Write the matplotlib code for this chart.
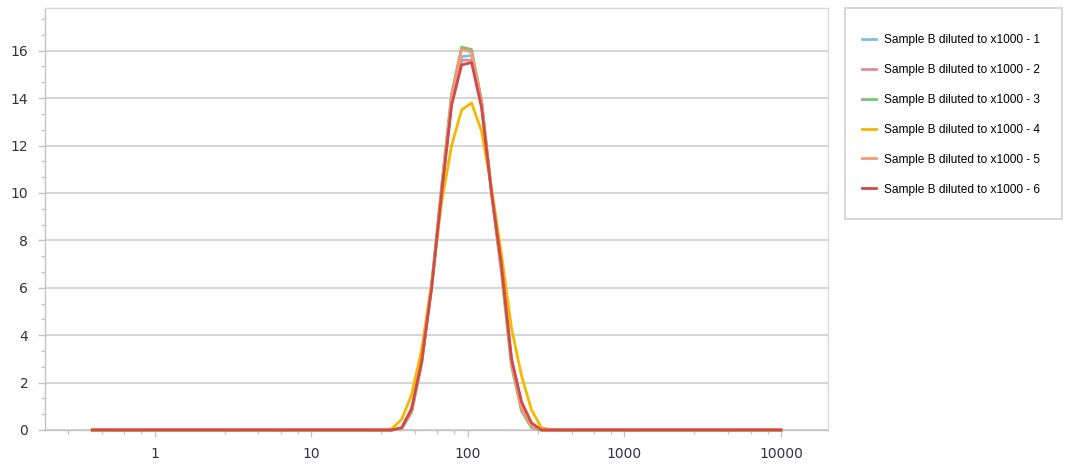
import numpy as np
import matplotlib.pyplot as plt
from matplotlib.ticker import FixedLocator, MultipleLocator, FuncFormatter
from matplotlib.patches import Rectangle

# size classes (nm)
sizes = [0.4000, 0.4632, 0.5365, 0.6213, 0.7195, 0.8332, 0.9649, 1.117, 1.294, 1.499,
         1.736, 2.010, 2.328, 2.696, 3.122, 3.615, 4.187, 4.849, 5.615, 6.503,
         7.531, 8.721, 10.10, 11.70, 13.54, 15.69, 18.17, 21.04, 24.36, 28.21,
         32.67, 37.84, 43.82, 50.75, 58.77, 68.06, 78.82, 91.28, 105.7, 122.4,
         141.8, 164.2, 190.1, 220.2, 255.0, 295.3, 342.0, 396.1, 458.7, 531.2,
         615.1, 712.4, 825.0, 955.4, 1106, 1281, 1484, 1718, 1990, 2305,
         2669, 3091, 3580, 4145, 4801, 5560, 6439, 7456, 8635, 10000]

# values below start at the 28.21 nm class, everything else reads 0
peak_start = 29
s1 = [0, 0, 0.07, 0.85, 2.9, 6.1, 10.1, 13.9, 15.75, 15.8, 13.8, 10.0, 6.8, 2.9, 1.0, 0.2, 0, 0, 0]
s2 = [0, 0, 0.08, 0.9, 2.9, 6.05, 10.05, 13.8, 15.6, 15.6, 13.7, 10.1, 6.9, 3.0, 1.1, 0.25, 0, 0, 0]
s3 = [0, 0, 0.05, 0.75, 2.8, 6.1, 10.3, 14.2, 16.15, 16.05, 13.9, 10.0, 6.6, 2.7, 0.8, 0.1, 0, 0, 0]
s4 = [0, 0.05, 0.45, 1.5, 3.4, 6.2, 9.6, 12.0, 13.5, 13.8, 12.6, 10.2, 7.4, 4.3, 2.3, 0.85, 0.1, 0, 0]
s5 = [0, 0, 0.06, 0.8, 2.85, 6.1, 10.2, 14.1, 16.05, 15.95, 13.9, 10.0, 6.7, 2.8, 0.9, 0.15, 0, 0, 0]
s6 = [0, 0, 0.1, 0.9, 2.9, 6.0, 10.0, 13.7, 15.4, 15.5, 13.6, 10.0, 6.9, 3.0, 1.2, 0.3, 0, 0, 0]

labels = ['Sample B diluted to x1000 - %d' % i for i in range(1, 7)]
colors = ['#7cc0de', '#e8899a', '#74c476', '#f5b700', '#f29a76', '#cf4a4a']

fig = plt.figure(figsize=(10.76, 4.72), dpi=100)
ax = fig.add_axes([0.0418, 0.089, 0.7277, 0.894])

for vals, lab, col in zip([s1, s2, s3, s4, s5, s6], labels, colors):
    y = np.zeros(len(sizes))
    y[peak_start:peak_start + len(vals)] = vals
    ax.plot(sizes, y, color=col, lw=2.0, label=lab, clip_on=False, zorder=3)

ax.set_xscale('log')
ax.set_xlim(10 ** -0.7, 10 ** 4.3)
ax.set_ylim(0, 17.8)

ax.xaxis.set_major_locator(FixedLocator([1, 10, 100, 1000, 10000]))
ax.xaxis.set_major_formatter(FuncFormatter(lambda v, p: '%d' % v))
minors = [d * (1 + 1.8 * k) for d in [0.1, 1, 10, 100, 1000] for k in range(1, 5)]
ax.xaxis.set_minor_locator(FixedLocator(minors))
ax.xaxis.set_minor_formatter(FuncFormatter(lambda v, p: ''))
ax.yaxis.set_major_locator(MultipleLocator(2))
ax.yaxis.set_minor_locator(MultipleLocator(2 / 3))

ax.grid(axis='y', which='major', color='#d6d6d6', lw=1.5)
ax.set_axisbelow(True)
for sp in ax.spines.values():
    sp.set_color('#dadada')
    sp.set_linewidth(1.0)
ax.spines['left'].set_color('#c4c4c4')
ax.spines['bottom'].set_color('#c4c4c4')

ax.tick_params(which='major', length=5, width=1, color='#c4c4c4', pad=7,
               labelsize=10, labelcolor='#333340')
ax.tick_params(which='minor', length=3, width=1, color='#c4c4c4')

# legend box
fig.patches.append(Rectangle((845 / 1076, 1 - 219 / 472), 217 / 1076, 211 / 472,
                             transform=fig.transFigure, fill=False,
                             edgecolor='#d0d0d0', lw=1.2))
fig.legend(loc='upper left', bbox_to_anchor=(862 / 1076, 1 - 34 / 472),
           frameon=False, borderpad=0, borderaxespad=0,
           prop={'family': 'Liberation Sans', 'size': 8.6},
           handlelength=1.2, handletextpad=0.65, labelspacing=1.5)

fig.savefig('out.png', dpi=100)
